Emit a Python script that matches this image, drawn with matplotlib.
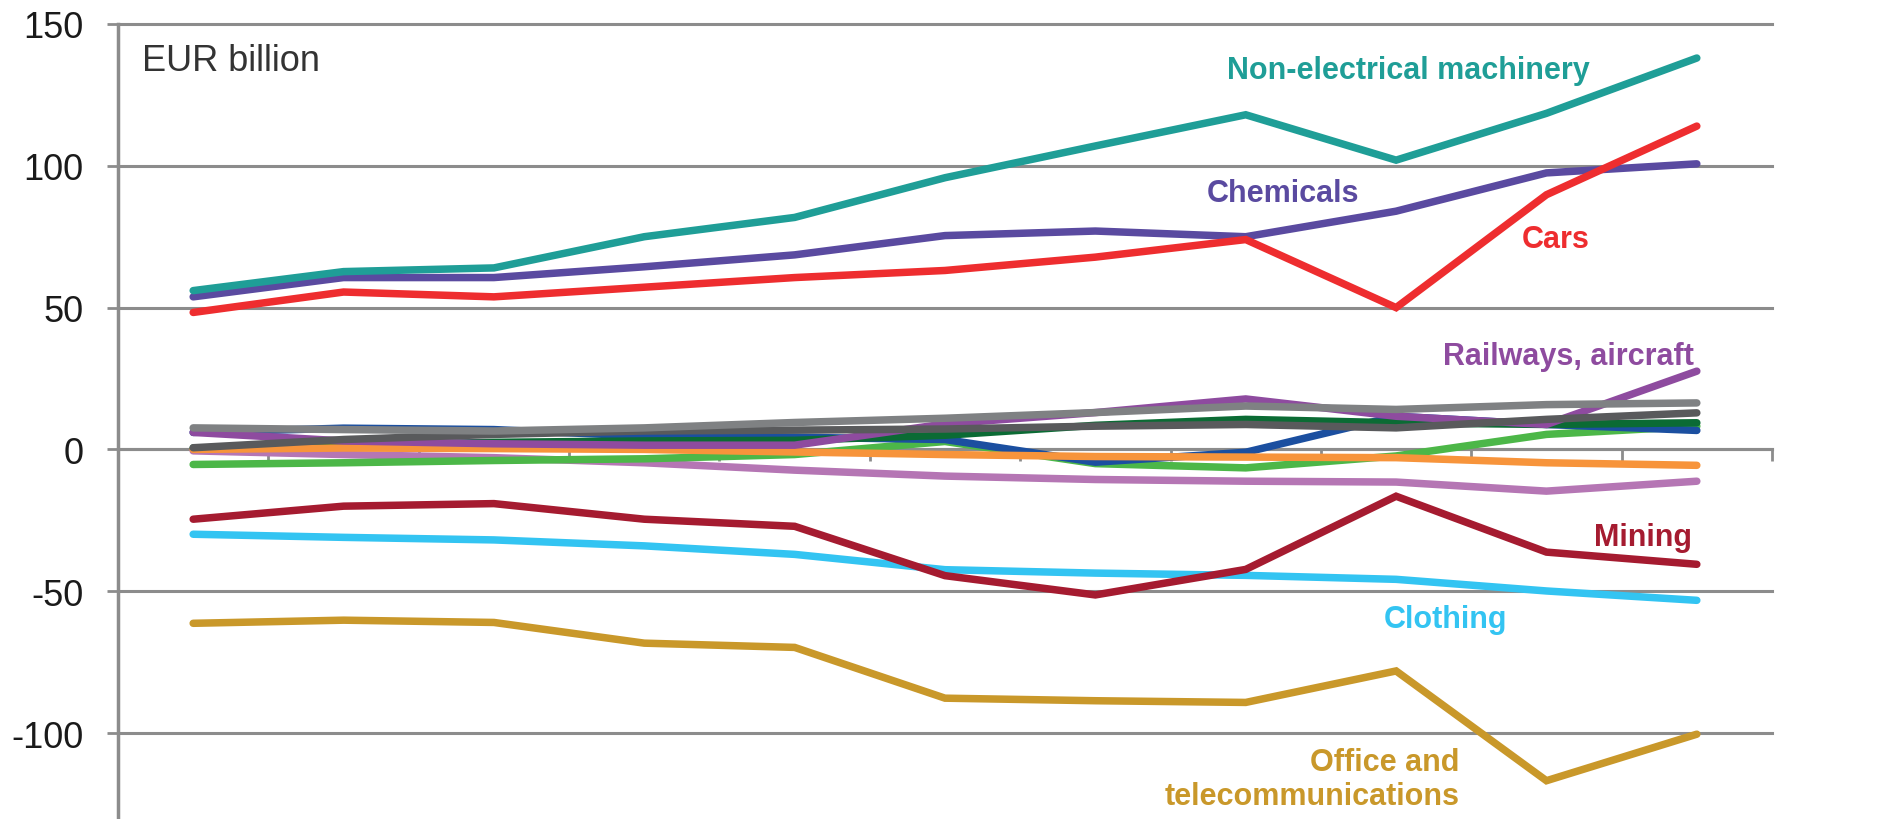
import matplotlib.pyplot as plt
import numpy as np

plt.rcParams['font.family'] = ['Liberation Sans', 'DejaVu Sans']
plt.rcParams['axes.unicode_minus'] = False

##########
# Data (EUR billion)
##########

years = [str(y) for y in range(2000, 2011)]

machinery = [56, 62.7, 64, 75, 81.8, 95.8, 107, 118, 102, 118.5, 138]
chemicals = [53.8, 60.6, 60.6, 64.4, 68.6, 75.4, 77, 75, 84, 97.5, 100.7]
cars = [48.3, 55.5, 53.8, 57.2, 60.6, 63.1, 67.8, 74, 50, 89.8, 114]
railways = [6, 3, 2, 1.5, 1.5, 9, 13, 17.8, 11.7, 8.8, 27.6]
grey_light = [7.6, 7, 6.5, 7.6, 9.5, 11, 13, 15.3, 14.1, 15.8, 16.4]
grey_dark = [0.6, 3.5, 5.3, 6.5, 6.8, 7.2, 8.2, 8.8, 7.6, 10.6, 12.9]
green_dark = [0.5, 1.5, 2.5, 3, 3.2, 5, 8.5, 10.6, 9.4, 8.8, 9.4]
blue = [6, 7.5, 7, 4.7, 4.3, 3.5, -4.5, -1, 11.7, 8.8, 6.7]
green = [-5.3, -4.7, -3.9, -3.3, -1.8, 2.8, -5, -6.5, -2.3, 5.3, 8.2]
orange = [0, 0.5, 0.3, 0, -0.9, -1.8, -2.5, -2.7, -2.9, -4.7, -5.6]
lilac = [-0.5, -1.8, -2.9, -4.7, -7.3, -9.4, -10.6, -11.2, -11.5, -14.7, -11.2]
mining = [-24.6, -20, -19.1, -24.6, -27.1, -44.5, -51.3, -42.3, -16.5, -36.2, -40.5]
clothing = [-29.9, -31, -31.9, -34, -37, -42.4, -43.6, -44.4, -45.8, -49.9, -53.2]
office = [-61.3, -60.2, -61, -68.3, -69.8, -87.7, -88.6, -89.2, -78.1, -116.8, -100.4]

# drawn bottom to top
series = [
    (lilac, '#b576b4'),
    (green, '#4cb748'),
    (blue, '#1b4fa0'),
    (green_dark, '#0b6b34'),
    (orange, '#f7943b'),
    (railways, '#8e4b9f'),
    (grey_dark, '#595a5c'),
    (grey_light, '#7f8183'),
    (clothing, '#33c4f2'),
    (mining, '#a51b30'),
    (office, '#c9982a'),
    (chemicals, '#5a4aa0'),
    (machinery, '#1f9e97'),
    (cars, '#ee2d2f'),
]

##########
# Plot
##########

fig = plt.figure(figsize=(18.87, 8.20), dpi=100)
ax = fig.add_axes([118 / 1887, 0, 1654 / 1887, 795 / 820])

x = np.arange(len(years)) + 0.5
for values, color in series:
    ax.plot(x, values, color=color, lw=5.4, solid_capstyle='round',
            solid_joinstyle='miter', zorder=3)

grid_col = '#8c8c8c'
ax.set_xlim(0, len(years))
ax.set_ylim(-130.3, 150)
ax.set_yticks([-100, -50, 0, 50, 100, 150])
ax.set_xticks(np.arange(len(years) + 1))
ax.set_xticklabels([])
ax.yaxis.grid(True, color=grid_col, lw=2.2)
ax.set_axisbelow(True)
for gl in ax.get_ygridlines():
    gl.set_clip_on(False)

for side in ['top', 'right']:
    ax.spines[side].set_visible(False)
ax.spines['bottom'].set_position(('data', 0))
ax.spines['bottom'].set_color(grid_col)
ax.spines['bottom'].set_linewidth(2.2)
ax.spines['left'].set_color(grid_col)
ax.spines['left'].set_linewidth(2.5)

ax.tick_params(axis='x', direction='out', length=8.5, width=2, color=grid_col)
ax.tick_params(axis='y', direction='out', length=8, width=2, color=grid_col,
               labelsize=26, labelcolor='#1a1a1a', pad=17)

ax.text(0.16, 137, 'EUR billion', fontsize=26, color='#333333', va='center')

lab = dict(fontsize=22, fontweight='bold', va='center')
ax.text(9.79, 133.8, 'Non-electrical machinery', color='#1f9e97', ha='right', **lab)
ax.text(7.75, 90.5, 'Chemicals', color='#5a4aa0', ha='center', **lab)
ax.text(9.79, 74.3, 'Cars', color='#ee2d2f', ha='right', **lab)
ax.text(10.48, 33.1, 'Railways, aircraft', color='#8e4b9f', ha='right', **lab)
ax.text(10.47, -31.0, 'Mining', color='#a51b30', ha='right', **lab)
ax.text(8.83, -59.9, 'Clothing', color='#33c4f2', ha='center', **lab)
ax.text(8.92, -116.2, 'Office and\ntelecommunications', color='#c9982a',
        ha='right', multialignment='right', **lab)

fig.savefig('out.png', dpi=100)
